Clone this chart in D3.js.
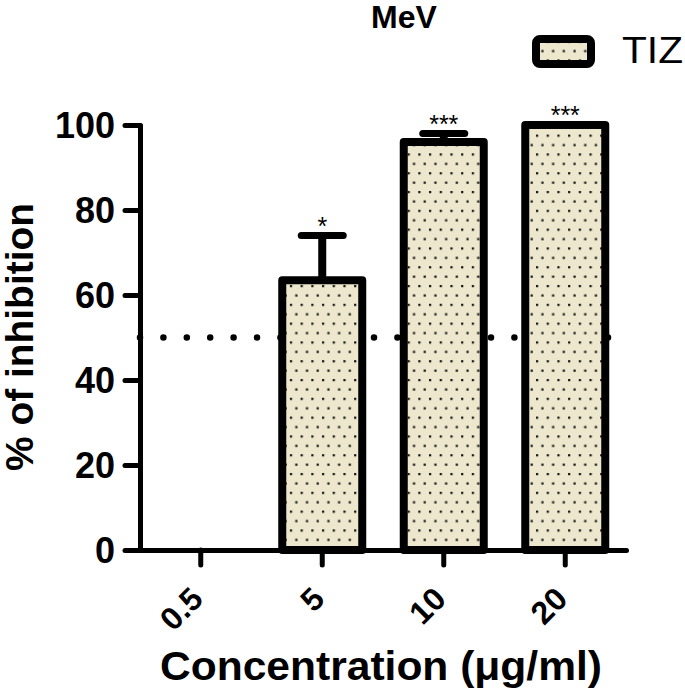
<!DOCTYPE html>
<html><head><meta charset="utf-8">
<script src="https://cdn.jsdelivr.net/npm/d3@7"></script>
<style>
html,body{margin:0;padding:0;background:#fff;}
svg{display:block;font-family:"Liberation Sans",Arial,sans-serif;}
</style></head>
<body>
<script>
const categories = ["0.5", "5", "10", "20"];
const values = [0, 63.5, 96, 100];
const errors = [0, 10.5, 2, 0];
const stars = ["", "*", "***", "***"];
const yTicks = [0, 20, 40, 60, 80, 100];
const threshold = 50;
const seriesName = "TIZ";
const title = "MeV";
const xTitle = "Concentration (\u03bcg/ml)";
const yTitle = "% of inhibition";

const W = 685, H = 693;
const svg = d3.select("body").append("svg").attr("width", W).attr("height", H);

const defs = svg.append("defs");
const pat = defs.append("pattern").attr("id", "dots").attr("patternUnits", "userSpaceOnUse")
  .attr("width", 10.7).attr("height", 18.8);
pat.append("rect").attr("width", 10.7).attr("height", 18.8).attr("fill", "#ede7cd");
pat.append("rect").attr("x", 1).attr("y", 3).attr("width", 2.2).attr("height", 2.2).attr("fill", "#111");
pat.append("rect").attr("x", 6.35).attr("y", 12.4).attr("width", 2.2).attr("height", 2.2).attr("fill", "#111");

const x = d3.scaleBand().domain(categories).range([140, 626]).padding(0);
const y = d3.scaleLinear().domain([0, 100]).range([550, 125]);

// threshold dotted line
svg.append("line").attr("x1", 140).attr("x2", 612)
  .attr("y1", y(threshold)).attr("y2", y(threshold))
  .attr("stroke", "#000").attr("stroke-width", 6.5)
  .attr("stroke-linecap", "round").attr("stroke-dasharray", "0 23.4");

const data = categories.map((c, i) => ({c, v: values[i], e: errors[i], s: stars[i]}));
const bw = 80;

const g = svg.append("g");
// error bars
data.filter(d => d.e > 0).forEach(d => {
  const cx = x(d.c) + x.bandwidth() / 2;
  g.append("line").attr("x1", cx).attr("x2", cx).attr("y1", y(d.v)).attr("y2", y(d.v + d.e))
    .attr("stroke", "#000").attr("stroke-width", 8);
  g.append("line").attr("x1", cx - 21).attr("x2", cx + 21).attr("y1", y(d.v + d.e)).attr("y2", y(d.v + d.e))
    .attr("stroke", "#000").attr("stroke-width", 7).attr("stroke-linecap", "round");
});
// bars
g.selectAll("rect.bar").data(data.filter(d => d.v > 0)).join("rect").attr("class", "bar")
  .attr("x", d => x(d.c) + x.bandwidth() / 2 - bw / 2)
  .attr("width", bw)
  .attr("y", d => y(d.v))
  .attr("height", d => y(0) - y(d.v))
  .attr("fill", "url(#dots)").attr("stroke", "#000").attr("stroke-width", 8)
  .attr("stroke-linejoin", "round");
// stars
g.selectAll("text.star").data(data.filter(d => d.s)).join("text").attr("class", "star")
  .attr("x", d => x(d.c) + x.bandwidth() / 2)
  .attr("y", d => y(d.v + d.e) - 1)
  .attr("text-anchor", "middle").attr("font-size", 25).attr("fill", "#000")
  .text(d => d.s);

// axes
const xAxis = svg.append("g").attr("transform", "translate(0,550)")
  .call(d3.axisBottom(x).tickSize(15).tickSizeOuter(0).tickPadding(4));
const yAxis = svg.append("g").attr("transform", "translate(140,0)")
  .call(d3.axisLeft(y).tickValues(yTicks).tickSize(15).tickSizeOuter(0).tickPadding(10));
[xAxis, yAxis].forEach(a => {
  a.select(".domain").attr("stroke", "#000").attr("stroke-width", 5).attr("stroke-linecap", "round");
  a.selectAll(".tick line").attr("stroke", "#000").attr("stroke-width", 5).attr("stroke-linecap", "round");
});
yAxis.selectAll(".tick text").attr("font-size", 36).attr("font-weight", "bold").attr("fill", "#000")
  .attr("font-family", "Liberation Sans, Arial, sans-serif").attr("dy", "0.36em");
xAxis.selectAll(".tick text").attr("font-size", 32).attr("font-weight", "bold").attr("fill", "#000")
  .attr("font-family", "Liberation Sans, Arial, sans-serif")
  .attr("text-anchor", "end").attr("x", 0).attr("y", 0).attr("dy", 0)
  .attr("transform", "translate(4,51) rotate(-45)");

// titles
svg.append("text").attr("x", 404).attr("y", 28).attr("text-anchor", "middle")
  .attr("font-size", 32).attr("font-weight", "bold").text(title);
svg.append("text").attr("x", 381).attr("y", 680).attr("text-anchor", "middle")
  .attr("font-size", 41).attr("font-weight", "bold")
  .attr("textLength", 442).attr("lengthAdjust", "spacingAndGlyphs").text(xTitle);
svg.append("text").attr("transform", "translate(33,337) rotate(-90)").attr("text-anchor", "middle")
  .attr("font-size", 38).attr("font-weight", "bold")
  .attr("textLength", 268).attr("lengthAdjust", "spacingAndGlyphs").text(yTitle);

// legend
svg.append("rect").attr("x", 536).attr("y", 39).attr("width", 55).attr("height", 25).attr("rx", 4)
  .attr("fill", "url(#dots)").attr("stroke", "#000").attr("stroke-width", 8).attr("stroke-linejoin", "round");
svg.append("text").attr("x", 622).attr("y", 63).attr("font-size", 37)
  .attr("textLength", 61).attr("lengthAdjust", "spacingAndGlyphs").text(seriesName);
</script>
</body></html>
